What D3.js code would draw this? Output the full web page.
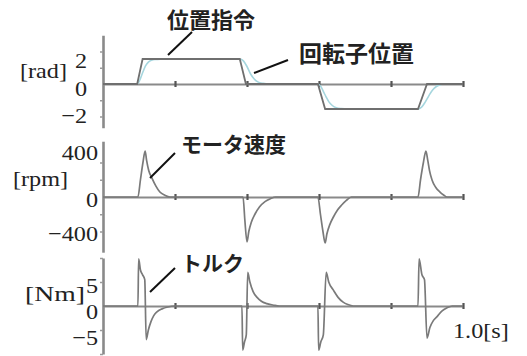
<!DOCTYPE html>
<html>
<head>
<meta charset="utf-8">
<script src="https://cdn.jsdelivr.net/npm/d3@7"></script>
<style>
  body { margin: 0; background: #fff; }
  svg { display: block; }
  .serif { font-family: "Liberation Serif", "DejaVu Serif", serif; font-size: 22px; fill: #222; }
  .jp { font-family: "Noto Sans CJK JP", sans-serif; font-weight: bold; fill: #222; }
</style>
</head>
<body>
<div id="chart"></div>
<script>
// time axis
const timeTicks = [0.2, 0.4, 0.6, 0.8, 1.0];

// position command [rad]
const cmdT   = [0, 0.095, 0.11, 0.38, 0.397, 0.597, 0.617, 0.875, 0.9, 1.0];
const cmdRad = [0, 0, 2, 2, 0, 0, -2, -2, 0, 0];

// rotor position [rad]
const rotorT   = [0, 0.095, 0.102, 0.11, 0.118, 0.126, 0.135, 0.145, 0.16, 0.18,
                  0.38, 0.39, 0.4, 0.41, 0.42, 0.43, 0.445, 0.46,
                  0.597, 0.605, 0.613, 0.62, 0.628, 0.637, 0.648, 0.662, 0.68,
                  0.875, 0.885, 0.895, 0.905, 0.915, 0.925, 0.935, 0.95, 1.0];
const rotorRad = [0, 0, 0.3, 0.9, 1.45, 1.75, 1.9, 1.96, 1.99, 2,
                  2, 1.85, 1.4, 0.8, 0.4, 0.17, 0.05, 0,
                  0, -0.2, -0.65, -1.05, -1.45, -1.72, -1.9, -1.97, -2,
                  -2, -1.85, -1.45, -0.95, -0.5, -0.22, -0.07, 0, 0];

// motor speed [rpm]
const speedT   = [0, 0.097, 0.104, 0.111, 0.117, 0.121, 0.127, 0.136, 0.147, 0.158, 0.172, 0.186,
                  0.389, 0.394, 0.4, 0.405, 0.412, 0.422, 0.435, 0.45, 0.465, 0.48,
                  0.597, 0.604, 0.611, 0.617, 0.622, 0.63, 0.64, 0.651, 0.663, 0.676, 0.69,
                  0.875, 0.882, 0.89, 0.897, 0.902, 0.907, 0.914, 0.924, 0.936, 0.946, 0.956, 1.0];
const speedRpm = [0, 0, 150, 300, 400, 320, 230, 165, 95, 43, 15, 0,
                  0, -200, -390, -300, -220, -150, -85, -40, -15, 0,
                  0, -150, -300, -400, -320, -240, -174, -115, -70, -30, 0,
                  0, 150, 300, 400, 320, 230, 148, 85, 43, 18, 0, 0];

// torque [Nm]
const torqueT  = [0, 0.097, 0.099, 0.104, 0.11, 0.116, 0.12, 0.126, 0.133, 0.141, 0.15, 0.164, 0.18, 0.2,
                  0.386, 0.388, 0.393, 0.398, 0.402, 0.408, 0.417, 0.428, 0.44, 0.455, 0.475, 0.49,
                  0.597, 0.599, 0.605, 0.612, 0.62, 0.627, 0.64, 0.653, 0.667, 0.68, 0.695,
                  0.875, 0.878, 0.886, 0.893, 0.9, 0.908, 0.918, 0.928, 0.942, 0.955, 0.97, 1.0];
const torqueNm = [0, 0, 9.8, 7.5, 6.5, 5.5, -7, -5, -3.3, -2, -1.2, -0.6, -0.2, 0,
                  0, -9.2, -7.5, -6, 7, 5, 3, 1.8, 1, 0.5, 0.15, 0,
                  0, -9.2, -7.5, -6, 7, 5, 3.3, 1.8, 0.8, 0.3, 0,
                  0, 9.8, 6.5, 5.5, -6.7, -4.5, -3, -2.2, -1, -0.4, 0, 0];

// axis labels
const radLabels = [2, 0, -2];
const rpmLabels = [400, 0, -400];
const nmLabels  = [5, 0, -5];
const radTicks = [-2.6, -1.3, 0, 1.3, 2.6];
const rpmTicks = [-300, -150, 0, 150, 300];
const nmTicks  = [-10, -5, 0, 5, 10];

const width = 527, height = 356;
const svg = d3.select("#chart").append("svg")
  .attr("width", width).attr("height", height)
  .attr("viewBox", `0 0 ${width} ${height}`);

svg.append("rect").attr("width", width).attr("height", height).attr("fill", "#fff");

const x = d3.scaleLinear().domain([0, 1]).range([103, 463]);

const panels = [
  { y: d3.scaleLinear().domain([-2, 2]).range([109, 59]), ext: [3.9, -3.5], ticks: radTicks,
    labels: radLabels, shifts: [1, 4, 6], labelX: 87, unit: "[rad]", unitX: 20, unitY: 78 },
  { y: d3.scaleLinear().domain([-400, 400]).range([243, 151]), ext: [485, -480], ticks: rpmTicks,
    labels: rpmLabels, shifts: [1, 2, -10], labelX: 98, unit: "[rpm]", unitX: 13, unitY: 186 },
  { y: d3.scaleLinear().domain([-5, 5]).range([330, 282]), ext: [10, -10], ticks: nmTicks,
    labels: nmLabels, shifts: [3, 5, 7], labelX: 98, unit: "[Nm]", unitX: 25, unitY: 301, unitW: 60 }
];

const fmt = v => v < 0 ? "\u2212" + Math.abs(v) : String(v);

function serifText(g, px, py, str, anchor, len){
  const t = g.append("text")
    .attr("class", "serif")
    .attr("transform", `translate(${px},${py}) scale(1.1,1)`)
    .attr("text-anchor", anchor)
    .text(str);
  if(len) t.attr("textLength", len / 1.1).attr("lengthAdjust", "spacingAndGlyphs");
  return t;
}

panels.forEach(p => {
  const g = svg.append("g");
  const yAx = p.y.copy().domain(p.ext).range([p.y(p.ext[0]), p.y(p.ext[1])]);

  // vertical axis
  const ya = g.append("g")
    .attr("transform", `translate(${x(0)},0)`)
    .call(d3.axisLeft(yAx).tickValues(p.ticks.filter(v => v !== 0)).tickSizeInner(3).tickSizeOuter(0).tickFormat(""));
  ya.select(".domain").attr("stroke", "#8a8a8a").attr("stroke-width", 2.6);
  ya.selectAll(".tick line").attr("stroke", "#9a9a9a").attr("stroke-width", 1.5);

  // time axis through zero
  const xa = g.append("g")
    .attr("transform", `translate(0,${p.y(0)})`)
    .call(d3.axisBottom(x).tickValues(timeTicks).tickSizeOuter(0).tickFormat(""));
  xa.select(".domain").attr("stroke", "#8a8a8a").attr("stroke-width", 2);
  xa.selectAll(".tick line").attr("y1", -3).attr("y2", 3).attr("stroke", "#555").attr("stroke-width", 2.2);

  // labels
  p.labels.forEach((v, i) => {
    serifText(g, p.labelX, p.y(v) + p.shifts[i] + 7.5, fmt(v), "end");
  });
  serifText(g, p.unitX, p.unitY, p.unit, "start", p.unitW);
  p.g = g;
});

const line = (xs, ys, y, curve) => d3.line()
  .x((d, i) => x(xs[i]))
  .y(d => y(d))
  .curve(curve)(ys);

// top panel: rotor then command
svg.append("path")
  .attr("d", line(rotorT, rotorRad, panels[0].y, d3.curveMonotoneX))
  .attr("fill", "none").attr("stroke", "#a6d6de").attr("stroke-width", 1.6);
svg.append("path")
  .attr("d", line(cmdT, cmdRad, panels[0].y, d3.curveLinear))
  .attr("fill", "none").attr("stroke", "#6f6f6f").attr("stroke-width", 1.8);

svg.append("path")
  .attr("d", line(speedT, speedRpm, panels[1].y, d3.curveMonotoneX))
  .attr("fill", "none").attr("stroke", "#7a7a7a").attr("stroke-width", 1.7);

svg.append("path")
  .attr("d", line(torqueT, torqueNm, panels[2].y, d3.curveMonotoneX))
  .attr("fill", "none").attr("stroke", "#7a7a7a").attr("stroke-width", 1.7);

serifText(svg, 453, 338, "1.0[s]", "start");

// annotations
const notes = [
  { text: "位置指令", x: 167, y: 18, size: 22, from: [192, 32], to: [168, 55] },
  { text: "回転子位置", x: 299, y: 52, size: 23, from: [288, 60], to: [254, 73] },
  { text: "モータ速度", x: 181, y: 143, size: 21, from: [175, 153], to: [150, 178] },
  { text: "トルク", x: 181, y: 262, size: 21, from: [175, 268], to: [150, 292] }
];
notes.forEach(n => {
  svg.append("text").attr("class", "jp")
    .attr("x", n.x).attr("y", n.y)
    .attr("dominant-baseline", "central")
    .style("font-size", n.size + "px")
    .text(n.text);
  svg.append("line")
    .attr("x1", n.from[0]).attr("y1", n.from[1])
    .attr("x2", n.to[0]).attr("y2", n.to[1])
    .attr("stroke", "#111").attr("stroke-width", 2);
});
</script>
</body>
</html>
